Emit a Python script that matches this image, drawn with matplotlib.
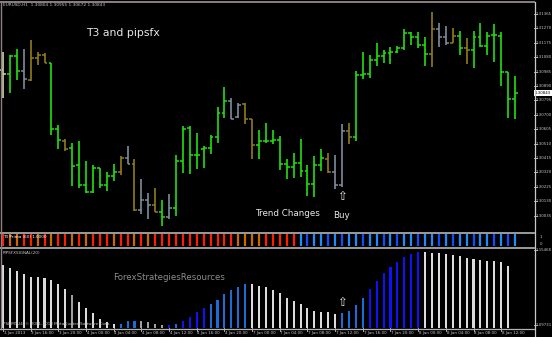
import matplotlib
matplotlib.use('Agg')
import matplotlib.pyplot as plt
import matplotlib.transforms as mtrans
from matplotlib.lines import Line2D
import numpy as np

# ---------------- data ----------------
symbol = "EURUSD,H1"
opens = [1.30995, 1.30969, 1.31087, 1.30988, 1.30929, 1.31074, 1.31094, 1.31041, 1.30606, 1.30526,
         1.30480, 1.30368, 1.30236, 1.30190, 1.30348, 1.30236, 1.30295, 1.30322, 1.30414, 1.30375,
         1.30071, 1.30137, 1.30104, 1.30058, 1.30025, 1.30084, 1.30394, 1.30612, 1.30434, 1.30474,
         1.30480, 1.30553, 1.30711, 1.30790, 1.30685, 1.30771, 1.30672, 1.30500, 1.30526, 1.30526,
         1.30533, 1.30375, 1.30355, 1.30381, 1.30328, 1.30243, 1.30368, 1.30408, 1.30322, 1.30236,
         1.30592, 1.30553, 1.30962, 1.30969, 1.31061, 1.31087, 1.31107, 1.31114, 1.31140, 1.31239,
         1.31213, 1.31160, 1.31101, 1.31266, 1.31213, 1.31173, 1.31219, 1.31140, 1.31127, 1.31213,
         1.31153, 1.31226, 1.31219, 1.30982, 1.30804]
highs = [1.31114, 1.31094, 1.31134, 1.31134, 1.31193, 1.31114, 1.31107, 1.31041, 1.30632, 1.30540,
         1.30513, 1.30526, 1.30394, 1.30368, 1.30348, 1.30322, 1.30375, 1.30427, 1.30493, 1.30408,
         1.30276, 1.30183, 1.30216, 1.30137, 1.30177, 1.30434, 1.30625, 1.30625, 1.30579, 1.30493,
         1.30566, 1.30751, 1.30883, 1.30810, 1.30777, 1.30777, 1.30672, 1.30599, 1.30645, 1.30599,
         1.30559, 1.30408, 1.30447, 1.30540, 1.30368, 1.30427, 1.30474, 1.30447, 1.30434, 1.30639,
         1.30645, 1.30988, 1.31114, 1.31094, 1.31173, 1.31127, 1.31147, 1.31153, 1.31266, 1.31246,
         1.31246, 1.31213, 1.31378, 1.31305, 1.31285, 1.31272, 1.31252, 1.31206, 1.31252, 1.31305,
         1.31246, 1.31299, 1.31246, 1.30982, 1.30955]
lows = [1.30810, 1.30843, 1.30929, 1.30870, 1.30922, 1.31028, 1.31041, 1.30566, 1.30474, 1.30460,
        1.30229, 1.30216, 1.30183, 1.30183, 1.30216, 1.30196, 1.30262, 1.30302, 1.30375, 1.30064,
        1.30045, 1.30012, 1.30058, 1.29965, 1.30012, 1.30031, 1.30315, 1.30309, 1.30342, 1.30348,
        1.30441, 1.30513, 1.30678, 1.30672, 1.30678, 1.30639, 1.30408, 1.30408, 1.30513, 1.30507,
        1.30335, 1.30276, 1.30282, 1.30289, 1.30163, 1.30157, 1.30328, 1.30315, 1.30210, 1.30223,
        1.30507, 1.30526, 1.30936, 1.30942, 1.31021, 1.31041, 1.31035, 1.31107, 1.31127, 1.31160,
        1.31140, 1.31021, 1.31015, 1.31147, 1.31160, 1.31173, 1.31094, 1.31035, 1.31008, 1.31147,
        1.31094, 1.31048, 1.30889, 1.30678, 1.30672]
closes = [1.30969, 1.31087, 1.30988, 1.30936, 1.31074, 1.31094, 1.31041, 1.30606, 1.30533, 1.30474,
          1.30361, 1.30236, 1.30190, 1.30348, 1.30236, 1.30295, 1.30322, 1.30414, 1.30375, 1.30071,
          1.30137, 1.30104, 1.30058, 1.30025, 1.30084, 1.30394, 1.30606, 1.30434, 1.30434, 1.30480,
          1.30553, 1.30711, 1.30790, 1.30672, 1.30764, 1.30672, 1.30500, 1.30526, 1.30526, 1.30533,
          1.30375, 1.30355, 1.30381, 1.30328, 1.30243, 1.30368, 1.30414, 1.30322, 1.30236, 1.30592,
          1.30553, 1.30962, 1.30969, 1.31061, 1.31087, 1.31107, 1.31114, 1.31140, 1.31239, 1.31213,
          1.31160, 1.31101, 1.31266, 1.31213, 1.31173, 1.31219, 1.31140, 1.31127, 1.31213, 1.31153,
          1.31219, 1.31226, 1.30982, 1.30804, 1.30843]
bar_color_codes = ("pggsoooggo" "gggggggoso" "ssogsggggg" "gggssooggg" "gggggggoss"
                   "oggggggggg" "ggossogogg" "ggggg")
t3_color_codes = ("roorrororr" "ororrrorro" "rorrrrrrrr" "rrrroooorr" "rrr"
                  "bBbbBbBb" "bBbbBbBb" "bBbbBbBb" "bBbbBbBb")
pipsfx_values = [63, 60, 57, 54, 51, 51, 50, 48, 44, 39,
                 33, 26, 20, 15, 9, 6, 4, 4, 7, 7,
                 7, 6, 4, 3, 3, 4, 7, 11, 16, 20,
                 24, 28, 34, 38, 41, 44, 44, 42, 41, 38,
                 35, 30, 27, 24, 20, 17, 16, 16, 14, 15,
                 17, 23, 30, 39, 47, 55, 61, 66, 71, 74,
                 76, 76, 75, 75, 74, 73, 72, 70, 69, 68,
                 67, 67, 66, 62]
pipsfx_color_codes = ("wwwwwwwwww" "gwwwwwwccc" "ggggbcbbbb" "ccccccwwww" "wwwwwwwwwc"
                      "cccbbbbbbb" "bwwwwwwwww" "wwww")
price_ticks = [1.31365, 1.31270, 1.31175, 1.31080, 1.30985, 1.30890, 1.30795, 1.30700,
               1.30605, 1.30510, 1.30415, 1.30320, 1.30225, 1.30130, 1.30035]
time_tick_bars = [0, 4, 8, 12, 16, 20, 24, 28, 32, 36, 40, 44, 48, 52, 56, 60, 64, 68, 72]
time_tick_labels = ["3 Jan 2013", "3 Jan 16:00", "3 Jan 20:00", "4 Jan 00:00", "4 Jan 04:00",
                    "4 Jan 08:00", "4 Jan 12:00", "4 Jan 16:00", "4 Jan 20:00", "7 Jan 00:00",
                    "7 Jan 04:00", "7 Jan 08:00", "7 Jan 12:00", "7 Jan 16:00", "7 Jan 20:00",
                    "8 Jan 00:00", "8 Jan 04:00", "8 Jan 08:00", "8 Jan 12:00"]
buy_bar = 49
pipsfx_labels = ["1.15468", "1.09731"]
pipsfx_label_vals = [78, 3]

# ---------------- styles ----------------
bar_cmap = {'g': '#22e010', 'o': '#8f7c1c', 's': '#7d8c9c', 'p': '#d8d8b0'}
t3_cmap = {'r': '#ff1e00', 'o': '#cc6a00', 'b': '#1e8cff', 'B': '#0a50ff'}
px_cmap = {'w': '#dcdcdc', 'g': '#a0a0a0', 'b': '#1010ff', 'c': '#1a6cd6'}
TXT = '#c8c8c8'

W, H = 552, 337
fig = plt.figure(figsize=(W / 100, H / 100), dpi=100, facecolor='black')


def rect(x0, y0, x1, y1):
    return [x0 / W, 1 - y1 / H, (x1 - x0) / W, (y1 - y0) / H]


def ftxt(x, y, s, **kw):
    return fig.text(x / W, 1 - y / H, s, **kw)


def fline(x0, y0, x1, y1, **kw):
    fig.add_artist(Line2D([x0 / W, x1 / W], [1 - y0 / H, 1 - y1 / H],
                          transform=fig.transFigure, **kw))


n = len(opens)
idx = np.arange(n)
XLIM = (-0.434, 76.74)
RX = 551.5 / 534  # right edge for right-axis labels, in axes fraction

ax = fig.add_axes(rect(0, 3, 534, 229))
ax_s = fig.add_axes(rect(0, 233, 534, 247))
ax_h = fig.add_axes(rect(0, 249, 534, 328))
for a in (ax, ax_s, ax_h):
    a.set_facecolor('black')
    for sp in a.spines.values():
        sp.set_visible(False)
    a.set_xticks([])
    a.set_yticks([])
    a.set_xlim(*XLIM)

# main OHLC bars
ax.set_ylim(1.29946, 1.31437)
cols = [bar_cmap[c] for c in bar_color_codes]
ax.vlines(idx, lows, highs, colors=cols, lw=1.2)
ax.hlines(opens, idx - 0.42, idx, colors=cols, lw=1.1)
ax.hlines(closes, idx, idx + 0.42, colors=cols, lw=1.1)

# price axis labels
tr = mtrans.blended_transform_factory(ax.transAxes, ax.transData)
for p in price_ticks:
    ax.text(RX, p, f"{p:.5f}", transform=tr, color=TXT, fontsize=2.8,
            va='center', ha='right', clip_on=False)
    ax.plot([1.0, 1.006], [p, p], transform=tr, color=TXT, lw=0.6, clip_on=False)
last = closes[-1]
ax.text(RX - 0.001, last, f"{last:.5f}", transform=tr, color='black', fontsize=2.8,
        va='center', ha='right', clip_on=False,
        bbox=dict(boxstyle='square,pad=0.2', fc='white', ec='white', lw=0))

# texts on main chart
ftxt(3, 5.5, f"{symbol}  {opens[-1]:.5f} {highs[-1]:.5f} {lows[-1]:.5f} {closes[-1]:.5f}",
     color=TXT, fontsize=3.1, va='center', ha='left')
ftxt(86, 33, "T3 and pipsfx", color='#e8e8e8', fontsize=7.8, va='center', ha='left')
ftxt(255, 213, "Trend Changes", color='#e8e8e8', fontsize=6.3, va='center', ha='left')
ftxt(333, 215, "Buy", color='#e8e8e8', fontsize=6.3, va='center', ha='left')
bx = 3 + 6.92 * buy_bar
ftxt(bx, 197, "\u21e7", color='#f4e8e8', fontsize=8.5, va='center', ha='center')
ftxt(bx, 302, "\u21e7", color='#f4e8e8', fontsize=8.5, va='center', ha='center')

# T3 strip
ax_s.set_ylim(0, 1)
scols = [t3_cmap[c] for c in t3_color_codes]
ax_s.vlines(idx, 0.08, 0.92, colors=scols, lw=1.6)
ftxt(3, 236.5, "T3 Prima (60) 1.0000", color='white', fontsize=3.0, va='center', ha='left')
fline(0, 232.5, 534, 232.5, color='#a8a8a8', lw=1.3)
fline(0, 247.8, 534, 247.8, color='#a8a8a8', lw=1.3)
ftxt(540, 237, "1", color=TXT, fontsize=2.8, va='center', ha='left')
ftxt(540, 244, "0", color=TXT, fontsize=2.8, va='center', ha='left')

# pipsfx histogram
ax_h.set_ylim(0, 79)
hcols = [px_cmap[c] for c in pipsfx_color_codes]
ax_h.bar(np.arange(len(pipsfx_values)), pipsfx_values, width=0.3, color=hcols, lw=0)
ftxt(3, 253, "PIPSFXSIGNAL(20)", color=TXT, fontsize=3.0, va='center', ha='left')
ftxt(113, 278, "ForexStrategiesResources", color='#8c8c8c', fontsize=6.2, va='center', ha='left')
ftxt(3, 324.5, "PSDMTU4, \u00a9 2001-2013 MetaQuotes Software Corp.", color=TXT,
     fontsize=3.0, va='center', ha='left')
trh = mtrans.blended_transform_factory(ax_h.transAxes, ax_h.transData)
for lab, v in zip(pipsfx_labels, pipsfx_label_vals):
    ax_h.text(RX, v, lab, transform=trh, color=TXT, fontsize=2.8,
              va='center', ha='right', clip_on=False)
    ax_h.plot([1.0, 1.006], [v, v], transform=trh, color=TXT, lw=0.6, clip_on=False)

# time axis
trt = mtrans.blended_transform_factory(ax_h.transData, ax_h.transAxes)
for b, lab in zip(time_tick_bars, time_tick_labels):
    ax_h.plot([b, b], [0, -0.035], transform=trt, color=TXT, lw=0.6, clip_on=False)
    ax_h.text(b + 0.1, -0.065, lab, transform=trt, color=TXT, fontsize=2.9,
              va='center', ha='left', clip_on=False)

# frame lines
fline(0, 2, 534, 2, color='#8a8080', lw=1.4)
fline(0.6, 2, 0.6, 329, color='#8a8080', lw=1.0)
fline(534.5, 2, 534.5, 337, color='#c8c8c8', lw=0.9)
fline(0, 328.8, 534, 328.8, color='#b8b0b0', lw=0.9)

fig.savefig('out.png', dpi=100, facecolor='black')
